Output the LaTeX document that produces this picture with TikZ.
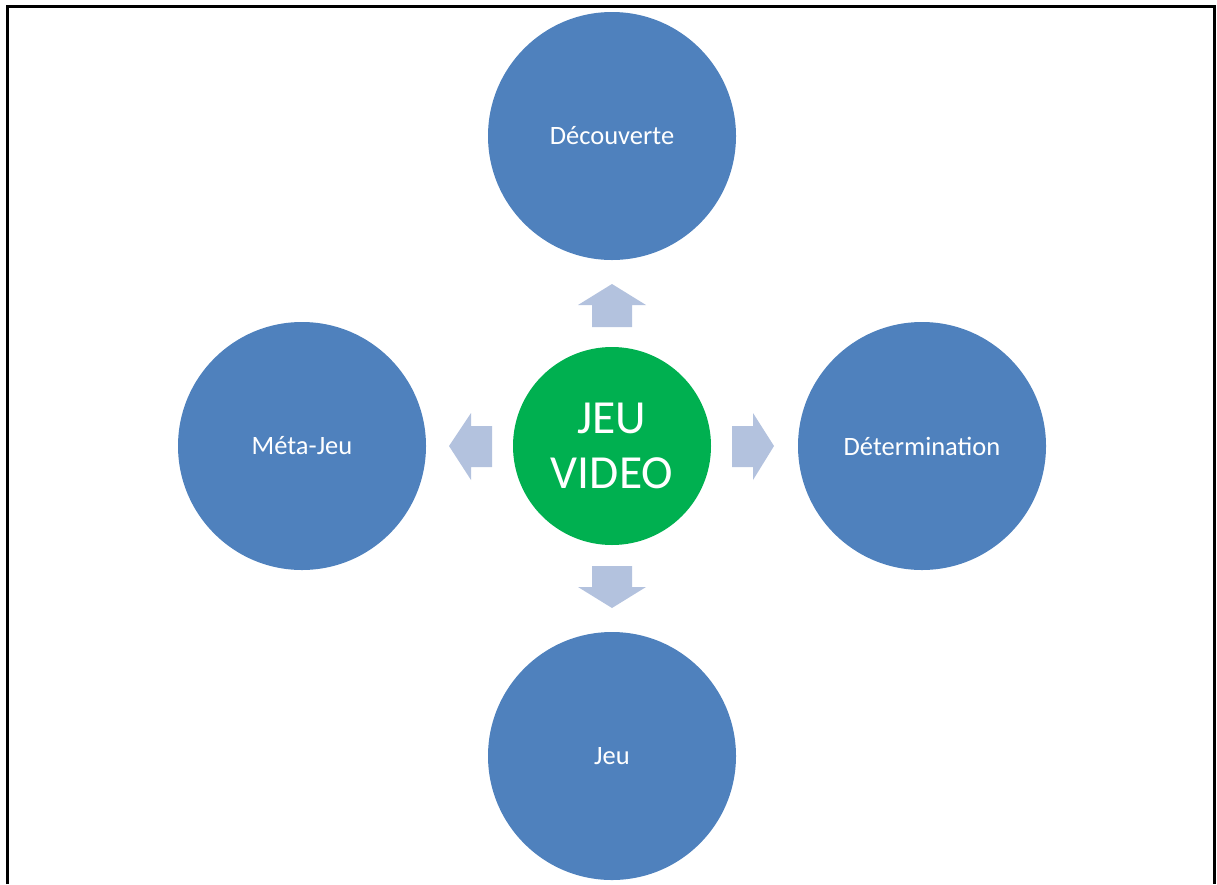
\documentclass[tikz,border=0pt]{standalone}
\usepackage{fontspec}
\setmainfont{Carlito}
\definecolor{circblue}{HTML}{4F81BD}
\definecolor{arrowblue}{HTML}{B3C2DE}
\definecolor{centergreen}{HTML}{00B050}
\begin{document}
\begin{tikzpicture}[x=1pt,y=-1pt,
  outer/.style={circle,fill=circblue,draw=none,minimum size=248pt,inner sep=0pt,text=white,font=\fontsize{26.5}{32}\selectfont},
  inner/.style={circle,fill=centergreen,draw=none,minimum size=198pt,inner sep=0pt,text=white,align=center,font=\fontsize{47.5}{55}\selectfont},
  arr/.style={fill=arrowblue,draw=none}]
\useasboundingbox (0,0) rectangle (1217,884);
\draw[line width=3pt,line cap=butt] (7,884) -- (7,6) -- (1214,6) -- (1214,884);
\node[outer] (dec) at (612,136) {Découverte};
\node[outer] (meta) at (302,446) {Méta-Jeu};
\node[outer] (det) at (922,446) {Détermination};
\node[outer] (jeu) at (612,756) {Jeu};
\node[inner] (jv) at (612,446) {JEU\\VIDEO};
% up arrow
\fill[arr] (592,327) -- (592,305) -- (578,305) -- (612,284) -- (646,305) -- (632,305) -- (632,327) -- cycle;
% down arrow
\fill[arr] (592,566) -- (592,587) -- (578,587) -- (612,608) -- (646,587) -- (632,587) -- (632,566) -- cycle;
% left arrow
\fill[arr] (492,426) -- (471,426) -- (471,413) -- (449,446) -- (471,480) -- (471,467) -- (492,467) -- cycle;
% right arrow
\fill[arr] (732,426) -- (753,426) -- (753,413) -- (774,446) -- (753,480) -- (753,467) -- (732,467) -- cycle;
\end{tikzpicture}
\end{document}
